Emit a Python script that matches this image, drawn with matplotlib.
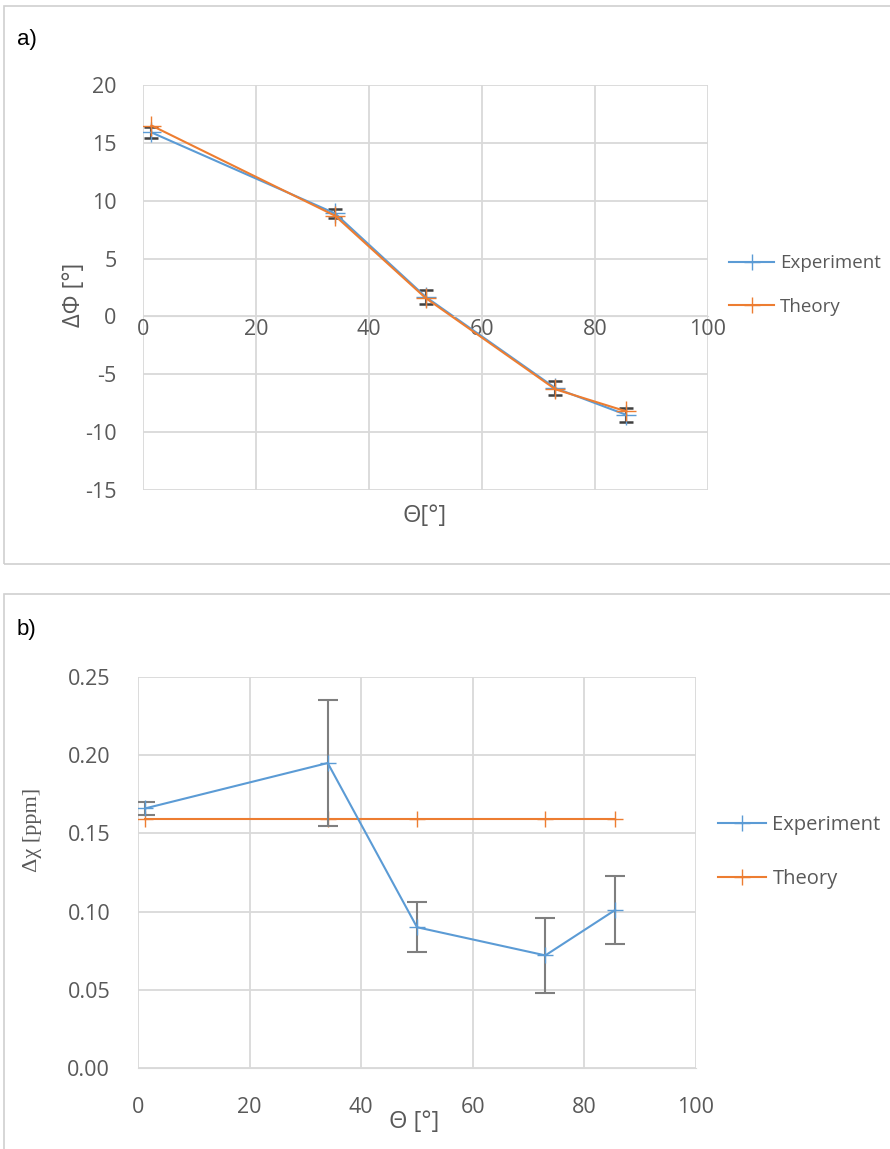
import numpy as np
import matplotlib
matplotlib.use("Agg")
from matplotlib import pyplot as plt
from matplotlib.patches import Rectangle

plt.rcParams['font.family'] = ['Open Sans', 'DejaVu Sans']
plt.rcParams['axes.unicode_minus'] = False

# panel a data
theta_a = [1.5, 34, 50, 73, 85.5]
dphi_exp = [15.9, 8.9, 1.7, -6.2, -8.5]
dphi_exp_err = [0.5, 0.4, 0.6, 0.6, 0.6]
dphi_theory = [16.5, 8.7, 1.6, -6.3, -8.2]

# panel b data
theta_b = [1.3, 34, 50, 73, 85.5]
dchi_exp = [0.166, 0.195, 0.090, 0.072, 0.101]
dchi_exp_err = [0.004, 0.040, 0.016, 0.024, 0.022]
dchi_theory = [0.159, 0.159, 0.159, 0.159, 0.159]

BLUE = '#5B9BD5'
ORANGE = '#ED7D31'
GRID = '#D9D9D9'
TXT = '#595959'
ERR = '#7F7F7F'
W, H = 890, 1149

fig = plt.figure(figsize=(W / 100, H / 100), dpi=100)

# panel frames
for y0, y1 in [(6, 564), (594, 1160)]:
    fig.patches.append(Rectangle((4 / W, 1 - y1 / H), 1.0, (y1 - y0) / H,
                                 transform=fig.transFigure, fill=False,
                                 edgecolor='#D0D0D0', lw=1.2))
fig.text(17 / W, 1 - 39 / H, 'a)', fontsize=16, va='center', color='black',
         family=['Liberation Sans', 'DejaVu Sans'])
fig.text(17 / W, 1 - 629 / H, 'b)', fontsize=16, va='center', color='black',
         family=['Liberation Sans', 'DejaVu Sans'])


def style_axes(ax):
    ax.grid(True, color=GRID, lw=1.3)
    ax.set_axisbelow(True)
    for s in ax.spines.values():
        s.set_visible(False)
    ax.tick_params(length=0, labelsize=15.5, labelcolor=TXT)


def add_legend(ax, anchor, size, spacing):
    h_exp, = ax.plot([], [], color=BLUE, marker='+', ms=11, lw=1.5)
    h_th, = ax.plot([], [], color=ORANGE, marker='+', ms=11, lw=1.5)
    fig.legend([h_exp, h_th], ['Experiment', 'Theory'], loc='center left',
               bbox_to_anchor=anchor, frameon=False, fontsize=size,
               labelcolor=TXT, handlelength=2.4, handletextpad=0.3,
               labelspacing=spacing, borderpad=0, numpoints=1)


def fig_text(x, y, s, **kw):
    fig.text(x / W, 1 - y / H, s, ha='center', va='center', color=TXT, **kw)


# ---- panel a
ax1 = fig.add_axes([143 / W, 1 - 490 / H, 565 / W, 405 / H])
style_axes(ax1)
ax1.plot(theta_a, dphi_theory, color=ORANGE, marker='+', ms=14, lw=1.5, zorder=3)
ax1.errorbar(theta_a, dphi_exp, yerr=dphi_exp_err, color=BLUE, marker='+', ms=14,
             lw=1.5, ecolor='#404040', elinewidth=1.5, capsize=5, capthick=1.8, zorder=2)
ax1.set_xlim(0, 100)
ax1.set_ylim(-15, 20)
ax1.set_xticks(np.arange(0, 101, 20))
ax1.set_yticks(np.arange(-15, 21, 5))
ax1.spines['bottom'].set_visible(True)
ax1.spines['bottom'].set_position(('data', 0))
ax1.spines['bottom'].set_color(GRID)
ax1.tick_params(axis='x', pad=2)
ax1.tick_params(axis='y', pad=19)
fig_text(425, 516, 'Θ[°]', fontsize=17)
fig_text(74, 295, 'ΔΦ [°]', fontsize=17, rotation=90)
add_legend(ax1, (720 / W, 1 - 285 / H), 13.5, 1.35)

# ---- panel b
ax2 = fig.add_axes([138 / W, 1 - 1068 / H, 558 / W, 391 / H])
style_axes(ax2)
ax2.plot(theta_b, dchi_theory, color=ORANGE, marker='+', ms=12, lw=1.5, zorder=2)
ax2.errorbar(theta_b, dchi_exp, yerr=dchi_exp_err, color=BLUE, marker='+', ms=12,
             lw=1.5, ecolor=ERR, elinewidth=1.5, capsize=7, capthick=1.5, zorder=3)
ax2.set_xlim(0, 100)
ax2.set_ylim(0, 0.25)
ax2.set_xticks(np.arange(0, 101, 20))
ax2.set_yticks(np.arange(0, 0.251, 0.05))
ax2.set_yticklabels([f'{v:.2f}' for v in np.arange(0, 0.251, 0.05)])
ax2.spines['bottom'].set_visible(True)
ax2.spines['bottom'].set_color(GRID)
ax2.tick_params(axis='x', pad=21)
ax2.tick_params(axis='y', pad=20)
fig_text(414, 1122, 'Θ [°]', fontsize=17)
fig_text(33, 830, 'Δχ [ppm]', fontsize=16, rotation=90,
         family=['Liberation Serif', 'DejaVu Serif'])
add_legend(ax2, (708 / W, 1 - 852 / H), 14.5, 1.65)

fig.savefig('out.png', dpi=100)
